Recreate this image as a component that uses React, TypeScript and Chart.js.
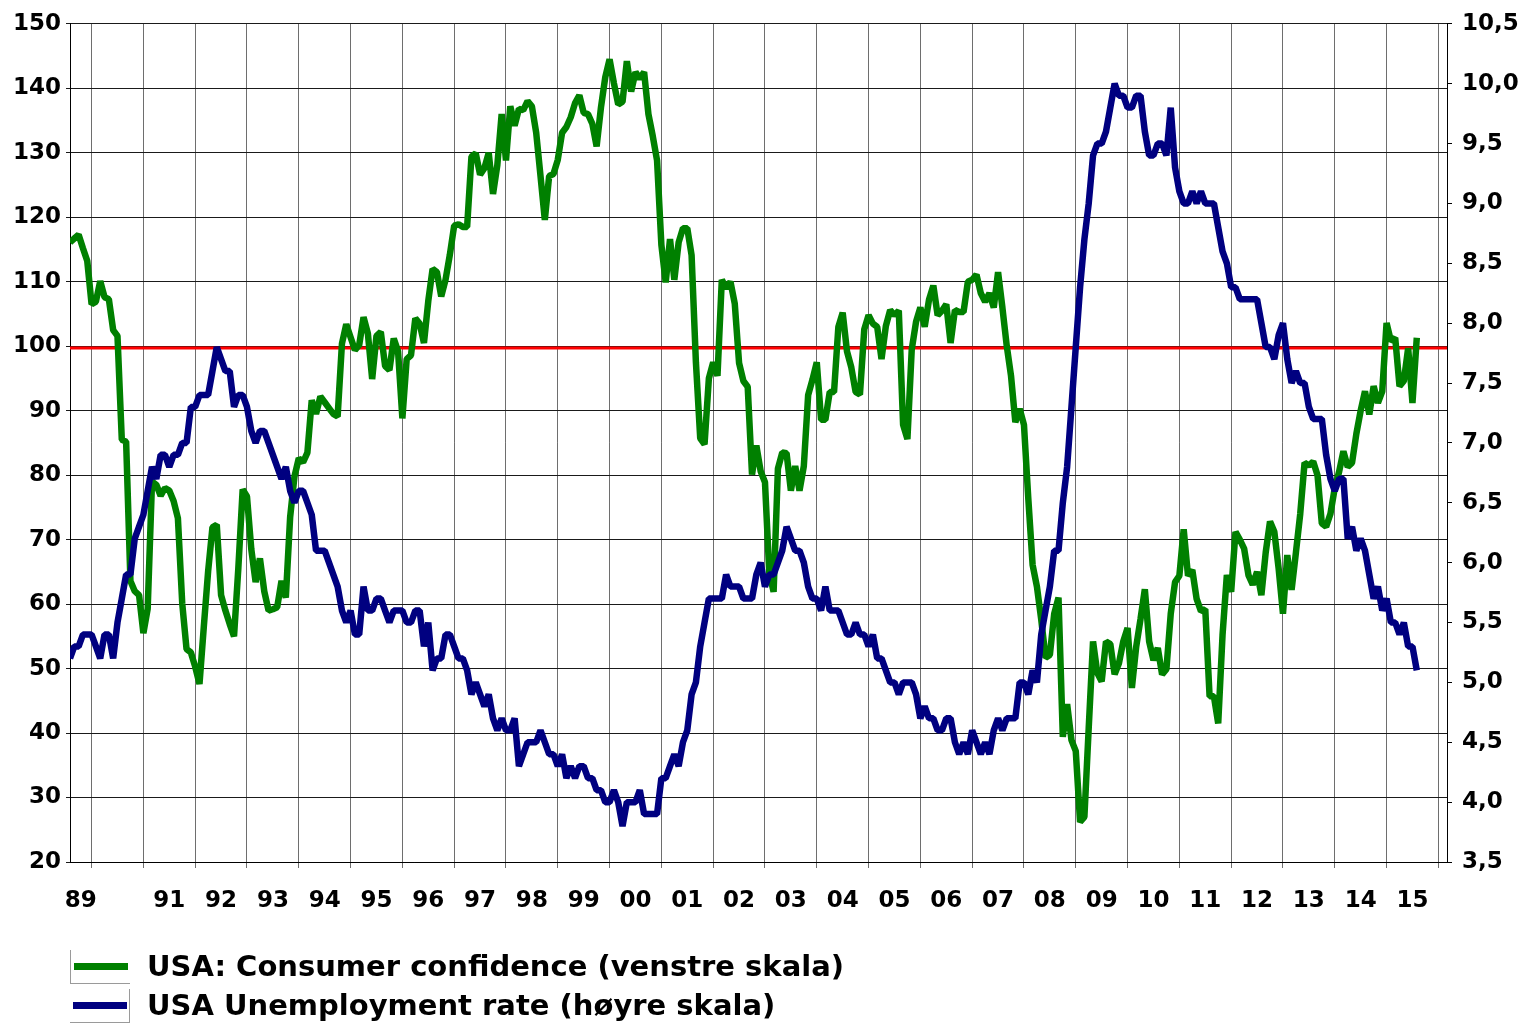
import React, { useEffect, useRef } from 'react';
import { Chart, registerables } from 'chart.js';

Chart.register(...registerables);

// Month index = months since Jan 1989. First observation: Aug 1989.
const FIRST_MONTH_INDEX = 7;
const AXIS_MIN = 7;
const AXIS_MAX = 326;

// Years shown on the x axis (1990 label is skipped in the original)
const labelYears = [1989, 1991, 1992, 1993, 1994, 1995, 1996, 1997, 1998, 1999, 2000, 2001, 2002, 2003, 2004, 2005, 2006, 2007, 2008, 2009, 2010, 2011, 2012, 2013, 2014, 2015];
const gridYears = [1990, 1991, 1992, 1993, 1994, 1995, 1996, 1997, 1998, 1999, 2000, 2001, 2002, 2003, 2004, 2005, 2006, 2007, 2008, 2009, 2010, 2011, 2012, 2013, 2014, 2015, 2016];

// USA Consumer confidence (Conference Board), Aug 1989 - Aug 2015, left scale
const consumerConfidence = [
  116.1, 116.7, 117.3, 115.2, 113.2,
  106.5, 106.9, 110.1, 107.6, 107.3, 102.5, 101.6, 85.5, 85.2, 63.6, 62.0, 61.4,
  55.5, 59.3, 79.0, 78.5, 76.8, 78.0, 77.6, 76.0, 73.3, 60.1, 53.0, 52.5,
  50.3, 47.6, 56.5, 65.1, 71.9, 72.3, 61.4, 59.0, 56.9, 55.0, 65.6, 77.8,
  76.7, 68.5, 63.4, 67.1, 62.0, 59.0, 59.2, 59.5, 63.6, 61.0, 73.5, 79.8,
  82.6, 82.0, 83.5, 91.6, 89.5, 92.2, 91.3, 90.4, 89.5, 89.1, 100.4, 103.4,
  101.4, 99.4, 100.2, 104.5, 102.0, 94.9, 101.6, 102.2, 96.9, 96.3, 101.2, 99.2,
  88.8, 98.0, 98.6, 104.3, 103.5, 100.5, 107.0, 112.0, 111.5, 107.7, 110.3, 114.2,
  118.7, 118.9, 118.5, 118.5, 129.4, 129.9, 126.6, 127.6, 130.0, 123.6, 128.1, 136.0,
  128.8, 137.2, 134.2, 136.8, 136.6, 138.0, 137.2, 133.1, 126.4, 119.6, 126.4, 126.7,
  128.9, 133.1, 134.0, 135.5, 137.7, 138.9, 136.2, 136.0, 134.5, 131.0, 137.0, 141.7,
  144.5, 140.8, 137.5, 137.9, 144.2, 139.5, 142.5, 141.5, 142.5, 136.0, 132.6, 128.8,
  115.7, 109.9, 116.6, 110.3, 116.1, 118.3, 118.3, 114.1, 97.5, 85.7, 84.8, 95.0,
  97.5, 95.4, 110.3, 109.0, 110.0, 106.6, 97.4, 94.6, 93.7, 80.1, 84.6, 80.6,
  78.9, 64.8, 61.9, 81.0, 83.5, 83.4, 77.6, 81.4, 77.6, 81.4, 92.4, 94.8,
  97.5, 88.6, 88.6, 92.9, 92.9, 103.0, 105.2, 99.2, 96.7, 92.9, 92.5, 102.6,
  104.8, 103.5, 103.0, 98.0, 103.1, 105.6, 104.8, 105.5, 87.8, 85.6, 99.5, 103.8,
  106.0, 103.0, 107.2, 109.4, 104.8, 105.5, 106.5, 100.5, 105.6, 105.3, 105.3, 110.0,
  110.3, 111.1, 108.2, 106.9, 108.2, 106.0, 111.5, 106.0, 100.1, 95.4, 88.2, 90.3,
  87.8, 76.4, 66.1, 62.7, 57.6, 51.7, 52.1, 58.5, 61.0, 39.4, 44.5, 38.9,
  37.2, 26.2, 27.0, 40.8, 54.2, 49.3, 48.0, 54.2, 53.8, 49.1, 50.8, 54.2,
  56.3, 47.0, 53.4, 57.7, 62.3, 54.2, 51.3, 53.2, 49.1, 49.9, 58.5, 63.4,
  64.4, 71.6, 64.4, 65.3, 60.8, 58.9, 59.2, 45.7, 45.7, 41.5, 55.2, 64.5,
  61.9, 71.2, 70.0, 68.6, 64.5, 63.0, 65.0, 61.4, 68.0, 72.8, 71.2, 65.5,
  58.5, 67.6, 62.2, 68.0, 74.0, 81.9, 81.5, 82.1, 80.0, 72.5, 72.0, 74.0,
  78.0, 80.5, 83.7, 81.3, 81.9, 86.4, 90.0, 93.0, 89.4, 93.8, 91.2, 93.0,
  103.6, 100.8, 101.3, 93.8, 94.6, 99.7, 91.2, 101.3,
];

// USA Unemployment rate (%), Aug 1989 - Aug 2015, right scale
const unemploymentRate = [
  5.2, 5.3, 5.3, 5.4, 5.4,
  5.4, 5.3, 5.2, 5.4, 5.4, 5.2, 5.5, 5.7, 5.9, 5.9, 6.2, 6.3,
  6.4, 6.6, 6.8, 6.7, 6.9, 6.9, 6.8, 6.9, 6.9, 7.0, 7.0, 7.3,
  7.3, 7.4, 7.4, 7.4, 7.6, 7.8, 7.7, 7.6, 7.6, 7.3, 7.4, 7.4,
  7.3, 7.1, 7.0, 7.1, 7.1, 7.0, 6.9, 6.8, 6.7, 6.8, 6.6, 6.5,
  6.6, 6.6, 6.5, 6.4, 6.1, 6.1, 6.1, 6.0, 5.9, 5.8, 5.6, 5.5,
  5.6, 5.4, 5.4, 5.8, 5.6, 5.6, 5.7, 5.7, 5.6, 5.5, 5.6, 5.6,
  5.6, 5.5, 5.5, 5.6, 5.6, 5.3, 5.5, 5.1, 5.2, 5.2, 5.4, 5.4,
  5.3, 5.2, 5.2, 5.1, 4.9, 5.0, 4.9, 4.8, 4.9, 4.7, 4.6, 4.7,
  4.6, 4.6, 4.7, 4.3, 4.4, 4.5, 4.5, 4.5, 4.6, 4.5, 4.4, 4.4,
  4.3, 4.4, 4.2, 4.3, 4.2, 4.3, 4.3, 4.2, 4.2, 4.1, 4.1, 4.0,
  4.0, 4.1, 4.0, 3.8, 4.0, 4.0, 4.0, 4.1, 3.9, 3.9, 3.9, 3.9,
  4.2, 4.2, 4.3, 4.4, 4.3, 4.5, 4.6, 4.9, 5.0, 5.3, 5.5, 5.7,
  5.7, 5.7, 5.7, 5.9, 5.8, 5.8, 5.8, 5.7, 5.7, 5.7, 5.9, 6.0,
  5.8, 5.9, 5.9, 6.0, 6.1, 6.3, 6.2, 6.1, 6.1, 6.0, 5.8, 5.7,
  5.7, 5.6, 5.8, 5.6, 5.6, 5.6, 5.5, 5.4, 5.4, 5.5, 5.4, 5.4,
  5.3, 5.4, 5.2, 5.2, 5.1, 5.0, 5.0, 4.9, 5.0, 5.0, 5.0, 4.9,
  4.7, 4.8, 4.7, 4.7, 4.6, 4.6, 4.7, 4.7, 4.5, 4.4, 4.5, 4.4,
  4.6, 4.5, 4.4, 4.5, 4.4, 4.6, 4.7, 4.6, 4.7, 4.7, 4.7, 5.0,
  5.0, 4.9, 5.1, 5.0, 5.4, 5.6, 5.8, 6.1, 6.1, 6.5, 6.8, 7.3,
  7.8, 8.3, 8.7, 9.0, 9.4, 9.5, 9.5, 9.6, 9.8, 10.0, 9.9, 9.9,
  9.8, 9.8, 9.9, 9.9, 9.6, 9.4, 9.4, 9.5, 9.5, 9.4, 9.8, 9.3,
  9.1, 9.0, 9.0, 9.1, 9.0, 9.1, 9.0, 9.0, 9.0, 8.8, 8.6, 8.5,
  8.3, 8.3, 8.2, 8.2, 8.2, 8.2, 8.2, 8.0, 7.8, 7.8, 7.7, 7.9,
  8.0, 7.7, 7.5, 7.6, 7.5, 7.5, 7.3, 7.2, 7.2, 7.2, 6.9, 6.7,
  6.6, 6.7, 6.7, 6.2, 6.3, 6.1, 6.2, 6.1, 5.9, 5.7, 5.8, 5.6,
  5.7, 5.5, 5.5, 5.4, 5.5, 5.3, 5.3, 5.1,
];

// Reference level drawn in red (left scale)
const referenceLevel = 99.7;

const legendItems = [
  { label: 'USA: Consumer confidence (venstre skala)', color: '#008000' },
  { label: 'USA Unemployment rate (høyre skala)', color: '#000080' },
];

const FONT = "'DejaVu Sans', Verdana, sans-serif";

export default function App() {
  const canvasRef = useRef<HTMLCanvasElement | null>(null);

  useEffect(() => {
    document.body.style.margin = '0';
    const canvas = canvasRef.current;
    if (!canvas) return;

    const ccData = consumerConfidence.map((v, i) => ({ x: FIRST_MONTH_INDEX + i, y: v }));
    const urData = unemploymentRate.map((v, i) => ({ x: FIRST_MONTH_INDEX + i, y: v }));
    const refData = [
      { x: AXIS_MIN, y: referenceLevel },
      { x: AXIS_MAX, y: referenceLevel },
    ];

    const boundaryValues = gridYears.map((y) => (y - 1989) * 12);
    const labelMap = new Map<number, string>();
    labelYears.forEach((y) => {
      const a = Math.max((y - 1989) * 12, AXIS_MIN);
      const b = Math.min((y - 1989) * 12 + 12, AXIS_MAX);
      labelMap.set((a + b) / 2, String(y % 100).padStart(2, '0'));
    });
    const boundarySet = new Set(boundaryValues);

    const tickFont = { family: FONT, size: 23, weight: 'bold' as const };

    const lineCommon = {
      pointRadius: 0,
      tension: 0,
      fill: false,
      borderJoinStyle: 'bevel' as const,
      borderCapStyle: 'butt' as const,
    };

    const chart = new Chart(canvas, {
      type: 'line',
      data: {
        datasets: [
          {
            ...lineCommon,
            label: legendItems[1].label,
            data: urData,
            yAxisID: 'y2',
            borderColor: '#000080',
            borderWidth: 6.5,
          },
          {
            ...lineCommon,
            label: legendItems[0].label,
            data: ccData,
            yAxisID: 'y',
            borderColor: '#008000',
            borderWidth: 6.5,
          },
          {
            ...lineCommon,
            label: 'ref',
            data: refData,
            yAxisID: 'y',
            borderColor: '#ff0000',
            borderWidth: 3,
          },
        ],
      },
      options: {
        animation: false,
        responsive: false,
        maintainAspectRatio: false,
        parsing: false as any,
        normalized: true,
        layout: { padding: { top: 17, left: 0, right: 0, bottom: 0 } },
        plugins: {
          legend: { display: false },
          tooltip: { enabled: false },
        },
        scales: {
          x: {
            type: 'linear',
            min: AXIS_MIN,
            max: AXIS_MAX,
            afterBuildTicks: (axis: any) => {
              const vals = [...boundaryValues, ...Array.from(labelMap.keys())].sort((a, b) => a - b);
              axis.ticks = vals.map((v) => ({ value: v }));
            },
            afterFit: (axis: any) => {
              axis.height = 165;
            },
            grid: {
              color: (ctx: any) => (boundarySet.has(ctx.tick?.value) ? '#6e6e6e' : 'rgba(0,0,0,0)'),
              lineWidth: 1,
              tickLength: 6,
              drawTicks: true,
            },
            border: { display: true, color: '#000000', width: 1 },
            ticks: {
              autoSkip: false,
              maxRotation: 0,
              minRotation: 0,
              padding: 19,
              color: '#000000',
              font: tickFont,
              callback: (v: any) => labelMap.get(Number(v)) ?? '',
            },
          },
          y: {
            type: 'linear',
            position: 'left',
            min: 20,
            max: 150,
            afterFit: (axis: any) => {
              axis.width = 70;
            },
            ticks: {
              stepSize: 10,
              color: '#000000',
              font: tickFont,
              padding: 5,
            },
            grid: { color: '#1a1a1a', lineWidth: 1, tickLength: 4 },
            border: { display: true, color: '#000000', width: 1 },
          },
          y2: {
            type: 'linear',
            position: 'right',
            min: 3.5,
            max: 10.5,
            afterFit: (axis: any) => {
              axis.width = 81;
            },
            ticks: {
              stepSize: 0.5,
              color: '#000000',
              font: tickFont,
              padding: 10,
              callback: (v: any) => Number(v).toFixed(1).replace('.', ','),
            },
            grid: { drawOnChartArea: false, color: '#000000', lineWidth: 1, tickLength: 5 },
            border: { display: true, color: '#000000', width: 1 },
          },
        },
      },
    });

    return () => {
      chart.destroy();
    };
  }, []);

  return (
    <div style={{ position: 'relative', width: 1528, height: 1027, background: '#ffffff', overflow: 'hidden' }}>
      <canvas ref={canvasRef} width={1528} height={1027} style={{ display: 'block', width: 1528, height: 1027 }} />
      <div style={{ position: 'absolute', left: 70, top: 947, fontFamily: FONT, fontWeight: 'bold', fontSize: 29, color: '#000', lineHeight: '39px' }}>
        {legendItems.map((item, i) => (
          <div key={item.label} style={{ display: 'flex', alignItems: 'center', height: 39 }}>
            <div
              style={{
                width: 60,
                height: 34,
                boxSizing: 'border-box',
                borderLeft: i === 0 ? '1px solid #9a9a9a' : 'none',
                borderRight: i === 1 ? '1px solid #9a9a9a' : 'none',
                borderBottom: '1px solid #9a9a9a',
                display: 'flex',
                alignItems: 'center',
                justifyContent: 'center',
                marginRight: 17,
              }}
            >
              <div style={{ width: 54, height: 7, background: item.color }} />
            </div>
            <span style={{ whiteSpace: 'nowrap' }}>{item.label}</span>
          </div>
        ))}
      </div>
    </div>
  );
}
